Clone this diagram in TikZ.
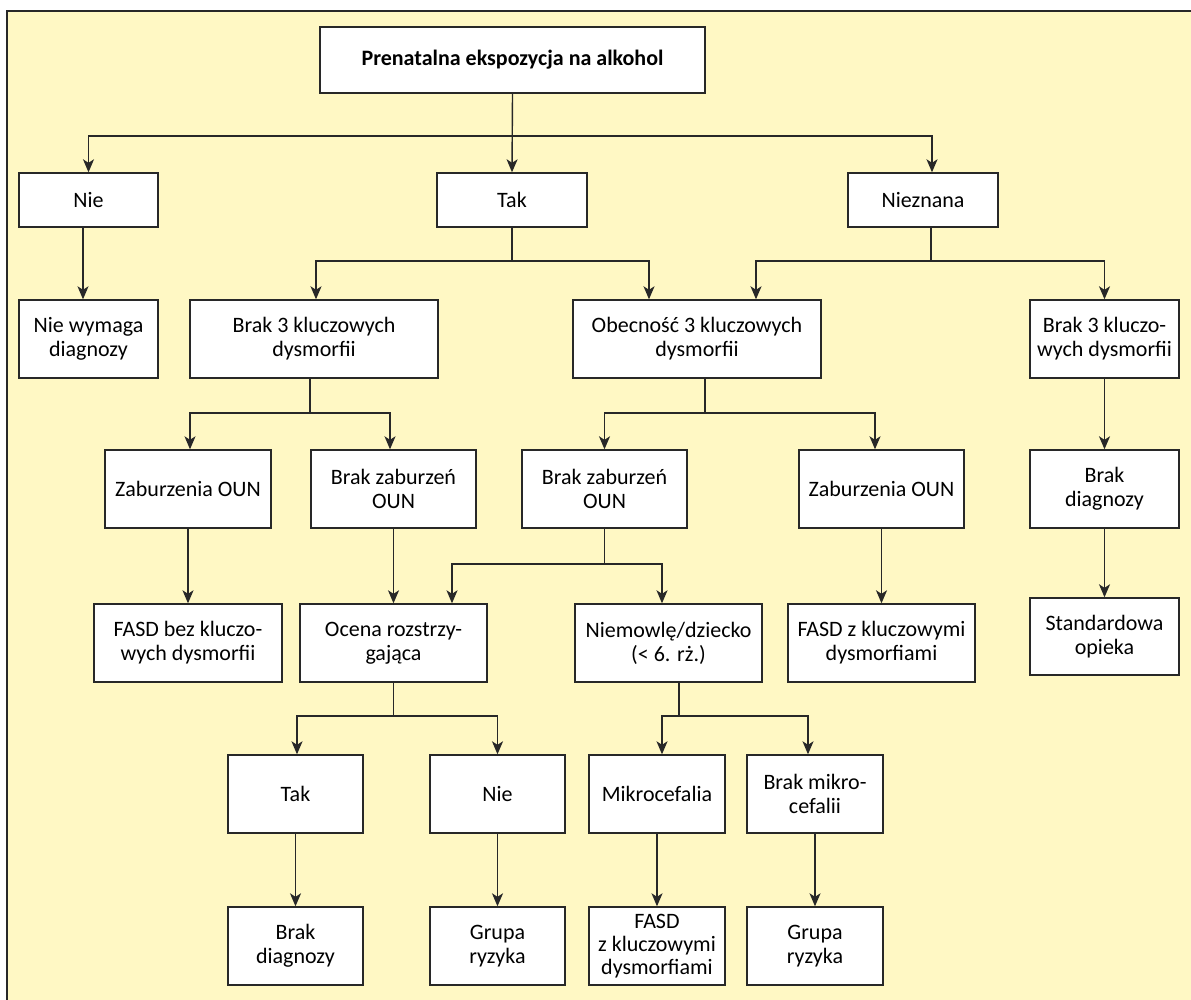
\documentclass[tikz,border=0pt]{standalone}
\usepackage{fontspec}
\setmainfont{Carlito}
\usetikzlibrary{arrows.meta,calc}
\definecolor{bgyellow}{RGB}{255,248,196}
\definecolor{linegray}{RGB}{40,40,40}
\begin{document}
\begin{tikzpicture}[x=1pt,y=-1pt,
  box/.style={draw=linegray,line width=1.4pt,fill=white,align=center,inner sep=0pt,
              font=\fontsize{22}{24}\selectfont},
  sz/.style 2 args={minimum width=#1pt,minimum height=#2pt},
  arr/.style={draw=linegray,line width=1.4pt,-{Stealth[length=13pt,width=11pt,inset=3.5pt]}},
  ln/.style={draw=linegray,line width=1.4pt}]
\useasboundingbox (0,0) rectangle (1191,999);
\clip (0,0) rectangle (1191,999);
\fill[bgyellow] (7,11) rectangle (1210,1010);
\draw[linegray,line width=1.6pt] (1210,11) -- (7,11) -- (7,1010);

% level coordinates
\coordinate (l1) at (0,136);
\coordinate (l2) at (0,261);
\coordinate (l3) at (0,413);
\coordinate (l4) at (0,564);
\coordinate (l5) at (0,716);

% nodes
\node[box,sz={385}{66},font=\fontsize{22}{24}\selectfont\bfseries] (top) at (512.5,60) {Prenatalna ekspozycja na alkohol};
\node[box,sz={139}{54}] (nie1) at (88.5,200) {Nie};
\node[box,sz={150}{54}] (tak1) at (512,200) {Tak};
\node[box,sz={150}{54}] (nz) at (923,200) {Nieznana};

\node[box,sz={139}{78}] (niewym) at (88.5,339) {Nie wymaga\\diagnozy};
\node[box,sz={248}{78}] (brak3) at (314,339) {Brak 3 kluczowych\\dysmorfii};
\node[box,sz={248}{78}] (obec) at (697,339) {Obecność 3 kluczowych\\dysmorfii};
\node[box,sz={149}{78}] (brak3r) at (1104.5,339) {Brak 3 kluczo-\\wych dysmorfii};

\node[box,sz={166}{78}] (zabL) at (188,489) {Zaburzenia OUN};
\node[box,sz={165}{78}] (bzabL) at (393.5,489) {Brak zaburzeń\\OUN};
\node[box,sz={165}{78}] (bzabM) at (604.5,489) {Brak zaburzeń\\OUN};
\node[box,sz={165}{78}] (zabR) at (881.5,489) {Zaburzenia OUN};
\node[box,sz={149}{78}] (brakdiagR) at (1104.5,489) {Brak\\diagnozy};

\node[box,sz={188}{78}] (fasdbez) at (188,643) {FASD bez kluczo-\\wych dysmorfii};
\node[box,sz={187}{78}] (ocena) at (393.5,643) {Ocena rozstrzy-\\gająca};
\node[box,sz={187}{78}] (niem) at (668.5,643) {Niemowlę/dziecko\\(< 6. rż.)};
\node[box,sz={187}{78}] (fasdz) at (881.5,643) {FASD z kluczowymi\\dysmorfiami};
\node[box,sz={149}{77}] (stand) at (1104.5,636.5) {Standardowa\\opieka};

\node[box,sz={135}{78}] (tak2) at (295.5,794) {Tak};
\node[box,sz={135}{78}] (nie2) at (497.5,794) {Nie};
\node[box,sz={136}{78}] (mikro) at (657,794) {Mikrocefalia};
\node[box,sz={136}{78}] (bmikro) at (815,794) {Brak mikro-\\cefalii};

\node[box,sz={135}{78}] (brakdiag2) at (295.5,946) {Brak\\diagnozy};
\node[box,sz={135}{78}] (grupa1) at (497.5,946) {Grupa\\ryzyka};
\node[box,sz={136}{78},font=\fontsize{22}{23}\selectfont] (fasd3) at (657,946) {FASD\\z kluczowymi\\dysmorfiami};
\node[box,sz={136}{78}] (grupa2) at (815,946) {Grupa\\ryzyka};

% connectors
\draw[arr] (top.south) -- (tak1.north);
\draw[arr] (top.south |- l1) -| (nie1.north);
\draw[arr] (top.south |- l1) -| ([xshift=9pt]nz.north);

\draw[arr] ([xshift=-5.5pt]nie1.south) -- ([xshift=-5.5pt]niewym.north);

\draw[ln] (tak1.south) -- (tak1.south |- l2);
\draw[arr] (tak1.south |- l2) -| ([xshift=2pt]brak3.north);
\draw[arr] (tak1.south |- l2) -| ([xshift=-48pt]obec.north);

\draw[ln] ([xshift=8pt]nz.south) -- ([xshift=8pt]nz.south |- l2);
\draw[arr] ([xshift=8pt]nz.south |- l2) -| ([xshift=59pt]obec.north);
\draw[arr] ([xshift=8pt]nz.south |- l2) -| (brak3r.north);

\draw[ln] ([xshift=-4pt]brak3.south) -- ([xshift=-4pt]brak3.south |- l3);
\draw[arr] ([xshift=-4pt]brak3.south |- l3) -| ([xshift=2pt]zabL.north);
\draw[arr] ([xshift=-4pt]brak3.south |- l3) -| ([xshift=-3.5pt]bzabL.north);

\draw[ln] ([xshift=8pt]obec.south) -- ([xshift=8pt]obec.south |- l3);
\draw[arr] ([xshift=8pt]obec.south |- l3) -| (bzabM.north);
\draw[arr] ([xshift=8pt]obec.south |- l3) -| ([xshift=-6.5pt]zabR.north);

\draw[arr] (brak3r.south) -- (brakdiagR.north);
\draw[arr] (brakdiagR.south) -- (stand.north);

\draw[arr] (zabL.south) -- (fasdbez.north);
\draw[arr] (bzabL.south) -- (ocena.north);

\draw[ln] (bzabM.south) -- (bzabM.south |- l4);
\draw[arr] (bzabM.south |- l4) -| ([xshift=58.5pt]ocena.north);
\draw[arr] (bzabM.south |- l4) -| ([xshift=-6.5pt]niem.north);

\draw[arr] (zabR.south) -- (fasdz.north);

\draw[ln] (ocena.south) -- (ocena.south |- l5);
\draw[arr] (ocena.south |- l5) -| ([xshift=1.5pt]tak2.north);
\draw[arr] (ocena.south |- l5) -| (nie2.north);

\draw[ln] ([xshift=10.5pt]niem.south) -- ([xshift=10.5pt]niem.south |- l5);
\draw[arr] ([xshift=10.5pt]niem.south |- l5) -| ([xshift=5pt]mikro.north);
\draw[arr] ([xshift=10.5pt]niem.south |- l5) -| ([xshift=-7pt]bmikro.north);

\draw[arr] (tak2.south) -- (brakdiag2.north);
\draw[arr] (nie2.south) -- (grupa1.north);
\draw[arr] (mikro.south) -- (fasd3.north);
\draw[arr] (bmikro.south) -- (grupa2.north);
\end{tikzpicture}
\end{document}
